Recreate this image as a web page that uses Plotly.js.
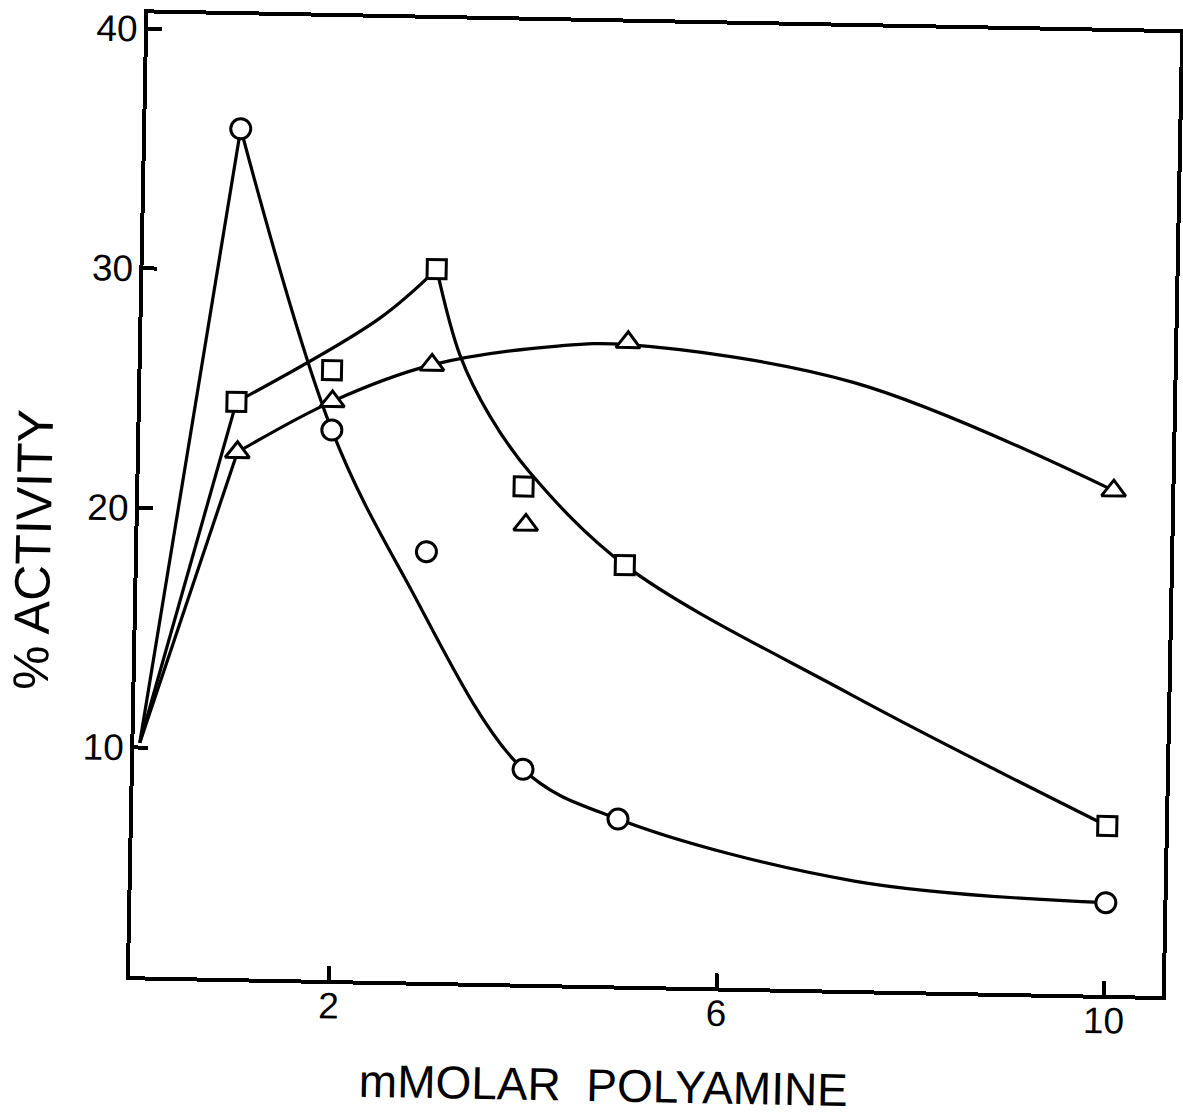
<!DOCTYPE html>
<html>
<head>
<meta charset="utf-8">
<script src="https://cdn.plot.ly/plotly-3.0.1.min.js"></script>
<style>
html,body{margin:0;padding:0;background:#fff;overflow:hidden;width:1183px;height:1114px}
#chart{width:1183px;height:1114px;transform:rotate(1.1deg);transform-origin:591.5px 557px}
</style>
</head>
<body>
<div id="chart"></div>
<script>
// Measured points (mM polyamine, % activity); first point is the common start on the axis
const concCircle = [0, 0.92, 1.92, 2.92, 3.96, 4.95, 10.0];
const actCircle = [10.2, 35.9, 23.4, 18.4, 9.4, 7.4, 4.3];
const concSquare = [0, 0.93, 1.91, 2.97, 3.91, 4.97, 10.0];
const actSquare = [10.2, 24.5, 25.9, 30.2, 21.2, 18.0, 7.5];
const concTriangle = [0, 0.95, 1.92, 2.94, 3.94, 4.96, 10.0];
const actTriangle = [10.2, 22.4, 24.6, 26.2, 19.6, 27.3, 21.5];

// Hand-drawn fitted curves
const circleCurveX = [0.92, 1.92, 2.70, 3.96, 4.95, 7.4, 10.0];
const circleCurveY = [35.9, 23.4, 17.3, 9.4, 7.4, 5.0, 4.3];
const squareRiseX = [0.93, 2.39, 2.97];
const squareRiseY = [24.5, 28.1, 30.2];
const squareFallX = [2.97, 3.23, 3.55, 3.97, 4.97, 7.32, 10.0];
const squareFallY = [30.2, 26.6, 24.1, 21.8, 18.0, 12.8, 7.5];
const triangleCurveX = [0.95, 1.92, 2.94, 4.26, 4.96, 7.3, 10.0];
const triangleCurveY = [22.4, 24.6, 26.2, 27.1, 27.2, 25.8, 21.5];

// Axis ticks
const xTickVals = [2, 6, 10];
const xTickText = ['2', '6', '10'];
const yTickVals = [10, 20, 30, 40];
const yTickText = ['10', '20', '30', '40'];
const xTitle = 'mMOLAR\u00A0\u00A0POLYAMINE';
const yTitle = '% ACTIVITY';

function lineTrace(x, y, shape) {
  return {type: 'scatter', mode: 'lines', x: x, y: y, hoverinfo: 'skip', showlegend: false,
    line: {color: '#000', width: 3.2, shape: shape, smoothing: 1}};
}
function markerTrace(x, y, symbol, size) {
  return {type: 'scatter', mode: 'markers', x: x, y: y, hoverinfo: 'skip', showlegend: false,
    marker: {symbol: symbol, size: size, color: '#fff', line: {color: '#000', width: 3}}};
}

const traces = [
  lineTrace(concCircle.slice(0, 2), actCircle.slice(0, 2), 'linear'),
  lineTrace(circleCurveX, circleCurveY, 'spline'),
  lineTrace(concSquare.slice(0, 2), actSquare.slice(0, 2), 'linear'),
  lineTrace(squareRiseX, squareRiseY, 'spline'),
  lineTrace(squareFallX, squareFallY, 'spline'),
  lineTrace(concTriangle.slice(0, 2), actTriangle.slice(0, 2), 'linear'),
  lineTrace(triangleCurveX, triangleCurveY, 'spline'),
  markerTrace(concCircle.slice(1), actCircle.slice(1), 'circle', 20),
  markerTrace(concSquare.slice(1), actSquare.slice(1), 'square', 19),
  markerTrace(concTriangle.slice(1), actTriangle.slice(1), 'triangle-up', 21)
];

const axisCommon = {
  showline: true, linecolor: '#000', linewidth: 4, mirror: true,
  showgrid: false, zeroline: false, ticks: 'inside', ticklen: 14, tickwidth: 4, tickcolor: '#000',
  tickmode: 'array', fixedrange: true,
  tickfont: {family: 'Liberation Sans, Arial, sans-serif', size: 37, color: '#000'}
};

const layout = {
  width: 1183, height: 1114,
  margin: {l: 138, r: 13, t: 22, b: 129, pad: 0},
  paper_bgcolor: '#fff', plot_bgcolor: '#fff',
  xaxis: Object.assign({}, axisCommon, {range: [-0.056, 10.595], tickvals: xTickVals, ticktext: xTickText, ticklabelstandoff: -10}),
  yaxis: Object.assign({}, axisCommon, {range: [0.45, 40.64], tickvals: yTickVals, ticktext: yTickText, ticklabelstandoff: -1}),
  annotations: [
    {text: xTitle, xref: 'paper', yref: 'paper', x: 0.461, y: -0.1035, xanchor: 'center', yanchor: 'middle',
     showarrow: false, font: {family: 'Liberation Sans, Arial, sans-serif', size: 46, color: '#000'}},
    {text: yTitle, xref: 'paper', yref: 'paper', x: -0.1018, y: 0.4417, xanchor: 'center', yanchor: 'middle',
     textangle: -90, showarrow: false, font: {family: 'Liberation Sans, Arial, sans-serif', size: 50, color: '#000'}}
  ]
};

Plotly.newPlot('chart', traces, layout, {displayModeBar: false, staticPlot: true});
</script>
</body>
</html>
